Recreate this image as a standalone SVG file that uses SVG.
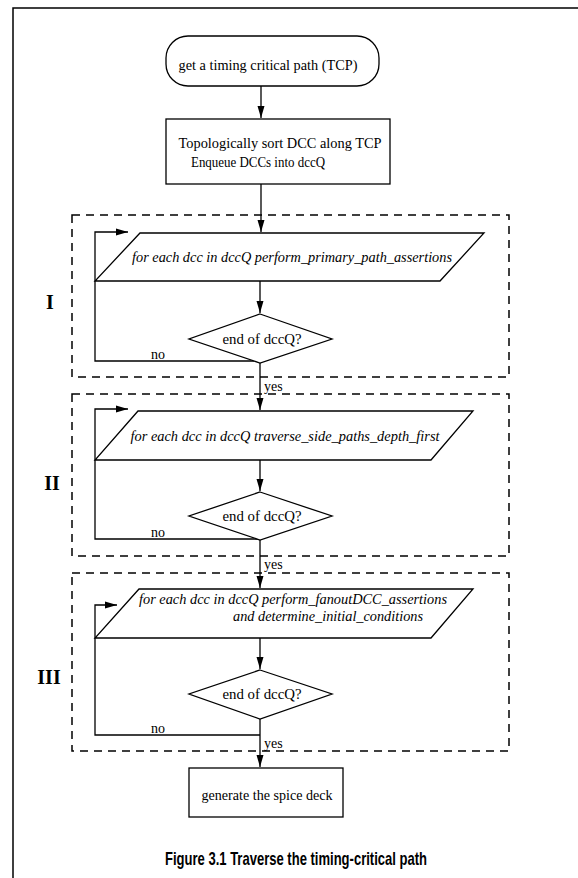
<svg xmlns="http://www.w3.org/2000/svg" width="578" height="878" viewBox="0 0 578 878">
<style>
.shape{fill:#fff;stroke:#000;stroke-width:1.3}
.conn{fill:none;stroke:#000;stroke-width:1.3}
.grp{fill:none;stroke:#000;stroke-width:1.5;stroke-dasharray:8 6}
.t{font-family:"Liberation Serif","Times New Roman",serif;font-size:15.5px;fill:#000}
.it{font-family:"Liberation Serif","Times New Roman",serif;font-size:14.5px;font-style:italic;fill:#000}
.lbl{font-family:"Liberation Serif","Times New Roman",serif;font-size:14px;fill:#000}
.roman{font-family:"Liberation Serif","Times New Roman",serif;font-size:20px;font-weight:bold;fill:#000}
.cap{font-family:"Liberation Sans Narrow","Liberation Sans",Arial,sans-serif;font-size:19px;font-weight:bold;fill:#000}
</style>
<defs>
<marker id="ah" markerUnits="userSpaceOnUse" markerWidth="12" markerHeight="8" refX="12" refY="4" orient="auto">
<path d="M0,0.5 L12,4 L0,7.5 z" fill="#000"/>
</marker>
</defs>
<rect width="578" height="878" fill="#fff"/>
<path d="M13,878 V8 H578" fill="none" stroke="#000" stroke-width="1.5"/>

<g id="groups">
<rect id="groupI" class="grp" x="72" y="215" width="437" height="162"/>
<rect id="groupII" class="grp" x="72" y="394" width="437" height="162"/>
<rect id="groupIII" class="grp" x="72" y="573" width="437" height="178"/>
<text class="roman" x="50" y="309" text-anchor="middle">I</text>
<text class="roman" x="52" y="490" text-anchor="middle">II</text>
<text class="roman" x="49" y="684" text-anchor="middle">III</text>
</g>

<g id="connectors">
<line class="conn" x1="261" y1="86" x2="261" y2="118" marker-end="url(#ah)"/>
<line class="conn" x1="261" y1="184" x2="261" y2="232" marker-end="url(#ah)"/>
<line class="conn" x1="260" y1="281" x2="260" y2="313" marker-end="url(#ah)"/>
<path class="conn" d="M260,361 H95 V232 H128" marker-end="url(#ah)"/>
<line class="conn" x1="260" y1="363" x2="260" y2="410" marker-end="url(#ah)"/>
<line class="conn" x1="260" y1="460" x2="260" y2="491" marker-end="url(#ah)"/>
<path class="conn" d="M260,539 H95 V409 H128" marker-end="url(#ah)"/>
<line class="conn" x1="260" y1="540" x2="260" y2="588" marker-end="url(#ah)"/>
<line class="conn" x1="260" y1="638" x2="260" y2="669" marker-end="url(#ah)"/>
<path class="conn" d="M260,735 H95 V605 H117" marker-end="url(#ah)"/>
<line class="conn" x1="260" y1="719" x2="260" y2="767" marker-end="url(#ah)"/>
<text class="lbl" x="151" y="359">no</text>
<text class="lbl" x="264" y="391">yes</text>
<text class="lbl" x="151" y="537">no</text>
<text class="lbl" x="264" y="569">yes</text>
<text class="lbl" x="151" y="733">no</text>
<text class="lbl" x="264" y="748">yes</text>
</g>

<g id="start">
<rect class="shape" x="166" y="36" width="213" height="50" rx="22" ry="22"/>
<text class="t" x="268" y="70" text-anchor="middle" textLength="179" lengthAdjust="spacingAndGlyphs">get a timing critical path (TCP)</text>
</g>

<g id="sort">
<rect class="shape" x="166" y="119" width="224" height="65"/>
<text class="t" x="280" y="148" text-anchor="middle" textLength="203" lengthAdjust="spacingAndGlyphs">Topologically sort DCC along TCP</text>
<text class="t" x="258" y="167" text-anchor="middle" textLength="134" lengthAdjust="spacingAndGlyphs">Enqueue DCCs into dccQ</text>
</g>

<g id="primary">
<polygon class="shape" points="140,233 484,233 440,281 95,281"/>
<text class="it" x="292" y="262" text-anchor="middle" textLength="320" lengthAdjust="spacingAndGlyphs">for each dcc in dccQ perform_primary_path_assertions</text>
</g>
<g id="endI">
<polygon class="shape" points="260,314 332,339 260,363 189,339"/>
<text class="t" x="262" y="344" text-anchor="middle" textLength="79" lengthAdjust="spacingAndGlyphs">end of dccQ?</text>
</g>

<g id="side">
<polygon class="shape" points="138,411 473,411 431,460 95,460"/>
<text class="it" x="285" y="441" text-anchor="middle" textLength="309" lengthAdjust="spacingAndGlyphs">for each dcc in dccQ traverse_side_paths_depth_first</text>
</g>
<g id="endII">
<polygon class="shape" points="260,492 332,516 260,540 189,516"/>
<text class="t" x="262" y="521" text-anchor="middle" textLength="79" lengthAdjust="spacingAndGlyphs">end of dccQ?</text>
</g>

<g id="fanout">
<polygon class="shape" points="139,589 473,589 431,638 95,638"/>
<text class="it" x="293" y="604" text-anchor="middle" textLength="308" lengthAdjust="spacingAndGlyphs">for each dcc in dccQ perform_fanoutDCC_assertions</text>
<text class="it" x="328" y="621" text-anchor="middle" textLength="190" lengthAdjust="spacingAndGlyphs">and determine_initial_conditions</text>
</g>
<g id="endIII">
<polygon class="shape" points="260,670 332,694 260,719 189,694"/>
<text class="t" x="262" y="699" text-anchor="middle" textLength="79" lengthAdjust="spacingAndGlyphs">end of dccQ?</text>
</g>

<g id="spice">
<rect class="shape" x="189" y="768" width="154" height="49"/>
<text class="t" x="267" y="800" text-anchor="middle" textLength="131" lengthAdjust="spacingAndGlyphs">generate the spice deck</text>
</g>

<text class="cap" x="296" y="865" text-anchor="middle" textLength="262" lengthAdjust="spacingAndGlyphs">Figure 3.1 Traverse the timing-critical path</text>
</svg>
